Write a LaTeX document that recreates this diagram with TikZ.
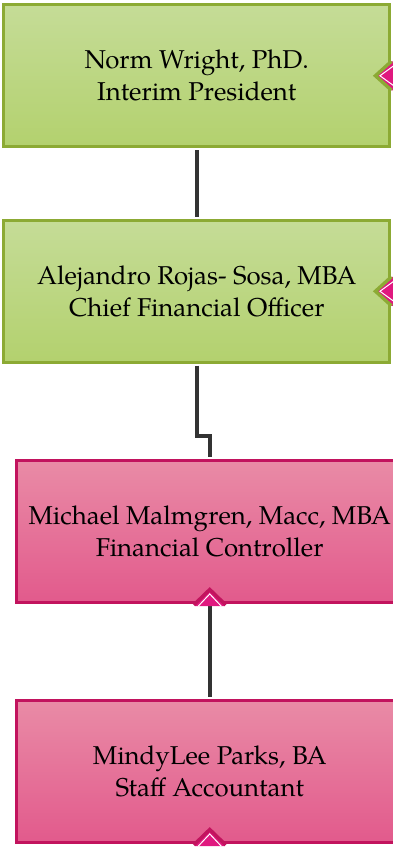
\documentclass[tikz,border=0pt]{standalone}
\usepackage{fontspec}
\setmainfont{TeX Gyre Pagella}
\definecolor{gtop}{RGB}{197,220,151}
\definecolor{gbot}{RGB}{179,209,110}
\definecolor{gbord}{RGB}{140,170,52}
\definecolor{ptop}{RGB}{233,139,166}
\definecolor{pbot}{RGB}{226,90,140}
\definecolor{pbord}{RGB}{194,19,94}
\definecolor{mag}{RGB}{224,24,127}
\definecolor{connc}{RGB}{51,51,51}
\newcommand\rnotch[2]{%
  \fill[mag] ([xshift=3pt,yshift=14.5pt]#1.east) -- ([yshift=14.5pt]#1.east) -- ([xshift=-16pt]#1.east) -- ([yshift=-14.5pt]#1.east) -- ([xshift=3pt,yshift=-14.5pt]#1.east) -- cycle;
  \draw[#2, line width=3.4pt] ([yshift=14.5pt]#1.east) -- ([xshift=-16pt]#1.east) -- ([yshift=-14.5pt]#1.east);
  \draw[white, line width=1pt] ([xshift=3pt,yshift=10.5pt]#1.east) -- ([xshift=-11.5pt]#1.east) -- ([xshift=3pt,yshift=-10.5pt]#1.east);
}
\newcommand\bnotch[2]{%
  \fill[mag] ([xshift=-15pt,yshift=-1.7pt]#1.south) -- ([xshift=-15pt]#1.south) -- ([yshift=15pt]#1.south) -- ([xshift=15pt]#1.south) -- ([xshift=15pt,yshift=-1.7pt]#1.south) -- cycle;
  \draw[#2, line width=3.4pt] ([xshift=-16pt,yshift=-0.5pt]#1.south) -- ([yshift=15pt]#1.south) -- ([xshift=16pt,yshift=-0.5pt]#1.south);
  \draw[white, line width=1pt] ([xshift=-11.5pt,yshift=-1.7pt]#1.south) -- ([yshift=10.5pt]#1.south) -- ([xshift=11.5pt,yshift=-1.7pt]#1.south);
}
\begin{document}
\begin{tikzpicture}[x=1pt,y=-1pt,
  box/.style={rectangle, minimum width=386pt, minimum height=142pt, line width=3.4pt, inner sep=0pt, align=center, font=\fontsize{25.8}{32}\selectfont},
  greenbox/.style={box, draw=gbord, top color=gtop, bottom color=gbot},
  pinkbox/.style={box, draw=pbord, top color=ptop, bottom color=pbot},
  link/.style={draw=connc, line width=3.5pt},
]
\useasboundingbox (0,0) rectangle (392,847);
\node[greenbox] (n1) at (196.75,75.75) {Norm Wright, PhD.\\Interim President};
\node[greenbox] (n2) at (196.75,291.25) {Alejandro Rojas- Sosa, MBA\\Chief Financial Officer};
\node[pinkbox] (n3) at (209.75,531.75) {Michael Malmgren, Macc, MBA\\Financial Controller};
\node[pinkbox] (n4) at (209.75,771.75) {MindyLee Parks, BA\\Staff Accountant};
\draw[link] ([yshift=-1.7pt]n1.south) -- ([yshift=1.7pt]n2.north);
\draw[link] ([yshift=-1.7pt]n2.south) |- ([yshift=23pt]n3.north) -- ([yshift=1.7pt]n3.north);
\draw[link] ([yshift=-1.7pt]n3.south) -- ([yshift=1.7pt]n4.north);
\rnotch{n1}{gbord}
\rnotch{n2}{gbord}
\bnotch{n3}{pbord}
\bnotch{n4}{pbord}
\end{tikzpicture}
\end{document}
